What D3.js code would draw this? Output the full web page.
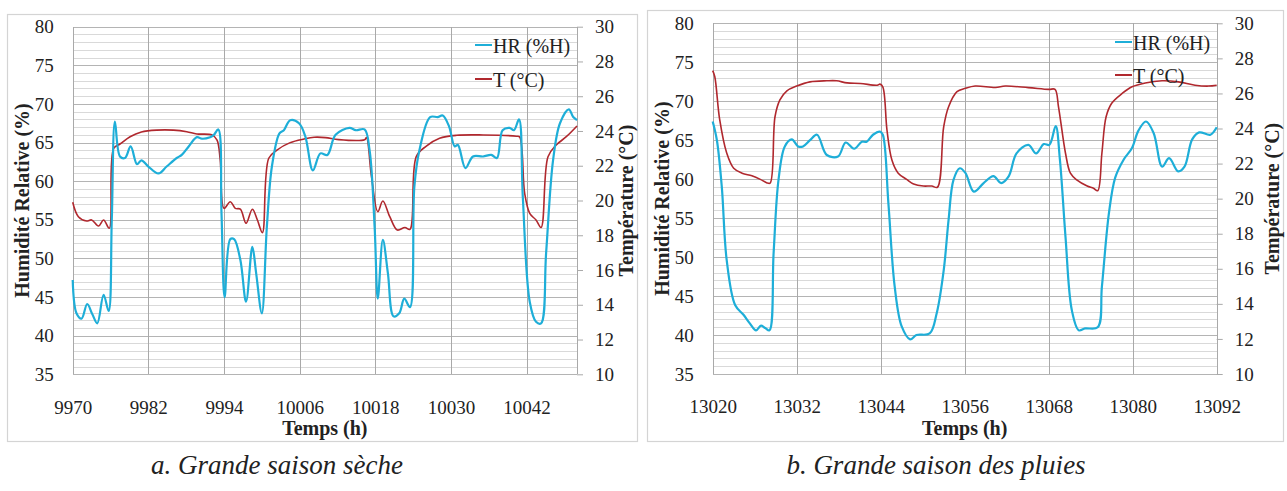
<!DOCTYPE html>
<html>
<head>
<meta charset="utf-8">
<script src="https://cdn.jsdelivr.net/npm/d3@7"></script>
<style>
  html, body { margin: 0; padding: 0; background: #fff; }
  svg { display: block; }
  text { font-family: "Liberation Serif", "Tinos", "Times New Roman", serif; fill: #222; }
</style>
</head>
<body>
<svg id="chart" width="1287" height="491"></svg>
<script>
const SERIF = '"Liberation Serif", "Tinos", "Times New Roman", serif';

// ---- Panel a: dry season (hours 9970-10050) ----
const hrTimeA = [9970, 9970.6, 9971.4, 9972.3, 9973.1, 9973.9, 9974.9, 9975.7, 9976.2, 9976.7, 9977.5, 9978.3, 9979.2, 9980.2, 9980.9, 9982, 9983.6, 9984.9, 9986.5, 9987.3, 9988.4, 9989.7, 9990.5, 9991.8, 9992.4, 9993.1, 9993.6, 9994.1, 9995.0, 9995.6, 9996.6, 9997.5, 9998.5, 9999.1, 10000.0, 10000.8, 10001.6, 10002.8, 10003.5, 10004.5, 10005.9, 10006.9, 10008.1, 10009.3, 10010.4, 10011.7, 10013.9, 10014.9, 10016.3, 10017.1, 10017.9, 10018.4, 10019.2, 10020.0, 10020.9, 10021.8, 10022.6, 10023.5, 10024.2, 10025.0, 10026.7, 10027.9, 10028.7, 10029.7, 10030.6, 10031.1, 10032.3, 10033.5, 10035.1, 10036.4, 10037.3, 10038.2, 10039.3, 10040.0, 10040.8, 10041.4, 10042.5, 10043.5, 10044.3, 10045.1, 10046.2, 10047.3, 10048.7, 10049.4, 10050];
const hrA = [47.2, 42.9, 42.2, 44.1, 42.8, 41.6, 45.3, 43.2, 55, 67.7, 63.2, 63.0, 64.5, 62.2, 62.7, 61.9, 61.0, 61.9, 63.0, 63.4, 64.5, 65.7, 65.5, 65.7, 66.0, 66.7, 56, 45.0, 52.5, 52.5, 49.8, 44.4, 51.5, 48.1, 42.9, 54.1, 61.9, 66.2, 66.6, 67.9, 67.5, 65.8, 61.4, 63.6, 63.4, 66.0, 66.9, 66.6, 66.7, 64.0, 54, 44.8, 52.4, 48.1, 42.5, 42.9, 44.8, 43.7, 59.3, 64.0, 68.3, 68.3, 68.5, 67.1, 64.5, 64.7, 61.7, 63.2, 63.2, 63.4, 63.0, 66.6, 66.9, 66.6, 68.0, 58, 44.4, 41.8, 41.6, 50.7, 62.7, 67.5, 69.3, 68.3, 67.9];
const tTimeA = [9970, 9970.9, 9972.2, 9973, 9974.1, 9974.9, 9975.8, 9976.5, 9977.5, 9979.1, 9980.9, 9983.3, 9986, 9988.1, 9989.7, 9992.1, 9992.9, 9993.4, 9994, 9995, 9995.8, 9996.6, 9997.5, 9998.5, 9999.3, 10000.1, 10001.1, 10002.4, 10004.5, 10006.7, 10008.3, 10010.1, 10012.2, 10016.3, 10016.6, 10017.4, 10018.4, 10019.2, 10020.3, 10021.5, 10022.7, 10023.5, 10024.5, 10026.1, 10028.2, 10030.9, 10035.1, 10040.4, 10040.9, 10041.7, 10042.5, 10043.5, 10044.3, 10045.4, 10046.7, 10048.3, 10050];
const tA = [19.9, 19.07, 18.82, 18.88, 18.53, 18.88, 18.4, 23.0, 23.25, 23.67, 23.94, 24.05, 24.05, 23.96, 23.83, 23.77, 23.48, 22.33, 19.55, 19.93, 19.55, 19.5, 18.69, 19.5, 18.88, 18.15, 22.43, 22.9, 23.33, 23.54, 23.64, 23.62, 23.5, 23.5, 23.62, 21.37, 19.36, 19.97, 19.07, 18.3, 18.45, 18.34, 22.52, 23.13, 23.58, 23.75, 23.77, 23.7, 23.66, 20.41, 19.26, 18.88, 18.45, 22.52, 23.19, 23.67, 24.29];
const xTicksA = [9970, 9982, 9994, 10006, 10018, 10030, 10042];

// ---- Panel b: rainy season (hours 13020-13092) ----
const hrTimeB = [13020, 13020.6, 13021.3, 13022, 13023.2, 13024.4, 13025.3, 13026.2, 13026.9, 13027.5, 13028.1, 13028.7, 13029.4, 13030.3, 13031.3, 13032.2, 13032.9, 13033.9, 13034.9, 13036.3, 13037.9, 13039.0, 13040.2, 13041.3, 13042, 13042.9, 13043.9, 13044.3, 13045.1, 13046, 13047, 13048.2, 13049.1, 13051, 13052, 13053, 13053.7, 13054.4, 13055.3, 13056.1, 13057.3, 13058.7, 13060.1, 13061.2, 13062.3, 13063.4, 13065.1, 13066.2, 13067.3, 13068.1, 13069.0, 13069.6, 13070.4, 13071.3, 13072.3, 13073.2, 13075, 13075.6, 13076.6, 13077.5, 13078.7, 13079.9, 13080.8, 13081.9, 13083, 13084.2, 13085.2, 13086.5, 13087.4, 13088.5, 13089.5, 13091.1, 13092];
const hrB = [67.4, 65.0, 59.0, 49.6, 43.85, 42.6, 41.5, 40.6, 41.2, 40.9, 40.6, 50.5, 59.9, 64.2, 65.1, 64.2, 64.2, 65.0, 65.7, 63.1, 62.9, 64.7, 63.9, 64.8, 64.8, 65.7, 66.1, 65.7, 56.9, 46.2, 41.1, 39.45, 40.0, 40.2, 42.8, 48.3, 54.8, 59.9, 61.4, 60.8, 58.4, 59.5, 60.4, 59.5, 60.4, 63.3, 64.4, 63.3, 64.5, 64.4, 66.8, 62.5, 52.6, 43.2, 40.6, 40.85, 41.0, 46.2, 55.6, 60.2, 62.5, 64.0, 66.2, 67.4, 65.9, 61.6, 62.7, 61.0, 61.6, 65.1, 66.0, 65.7, 66.65];
const tTimeB = [13020, 13020.3, 13021, 13022, 13023, 13024.2, 13025.6, 13026.8, 13027.7, 13028.2, 13028.9, 13029.6, 13030.6, 13032, 13033.9, 13036.3, 13037.7, 13039.2, 13041.1, 13043.5, 13043.9, 13044.3, 13044.9, 13045.6, 13046.5, 13047.7, 13048.7, 13050.1, 13051.3, 13052.1, 13053, 13053.7, 13054.9, 13056.1, 13057.5, 13060.4, 13061.8, 13065.1, 13068, 13068.9, 13069.4, 13070.4, 13071.1, 13072, 13073.5, 13074.4, 13075, 13075.6, 13076.2, 13077, 13078.5, 13079.9, 13081.8, 13084.2, 13086.5, 13088.9, 13090.8, 13092];
const tB = [27.3, 26.95, 24.5, 22.6, 21.73, 21.45, 21.3, 21.1, 20.91, 20.88, 24.67, 25.63, 26.15, 26.42, 26.66, 26.72, 26.72, 26.6, 26.57, 26.47, 26.53, 26.38, 23.9, 22.2, 21.45, 21.1, 20.84, 20.72, 20.72, 20.65, 24.1, 25.24, 26.1, 26.29, 26.42, 26.34, 26.42, 26.33, 26.23, 26.23, 25.24, 22.59, 21.45, 21.07, 20.72, 20.59, 20.45, 22.59, 24.67, 25.44, 26.0, 26.38, 26.6, 26.72, 26.66, 26.47, 26.42, 26.47];
const xTicksB = [13020, 13032, 13044, 13056, 13068, 13080, 13092];

// ---- Shared axes ----
const hrTicks = [35, 40, 45, 50, 55, 60, 65, 70, 75, 80];
const tTicks = [10, 12, 14, 16, 18, 20, 22, 24, 26, 28, 30];
const seriesNames = ["HR (%H)", "T (°C)"];
const captions = ["a. Grande saison sèche", "b. Grande saison des pluies"];

const HR_COLOR = "#1eaed8";
const T_COLOR = "#b0282e";

const svg = d3.select("#chart");

function styleTicks(axis) {
  axis.attr("font-family", null);
  axis.selectAll("text")
    .style("font-family", SERIF)
    .style("font-size", "19px")
    .attr("fill", "#222");
}

function drawPanel(p) {
  const g = svg.append("g");

  // outer frame
  g.append("rect")
    .attr("x", p.frame[0] + 0.5).attr("y", p.frame[1] + 0.5)
    .attr("width", p.frame[2]).attr("height", p.frame[3])
    .attr("fill", "#fff").attr("stroke", "#d4d4d4").attr("stroke-width", 1.2);

  const x = d3.scaleLinear().domain(p.xDomain).range([p.left, p.right]);
  const yH = d3.scaleLinear().domain([35, 80]).range([p.bottom, p.top]);
  const yT = d3.scaleLinear().domain([10, 30]).range([p.bottom, p.top]);

  // horizontal grid: every 1 % minor, every 5 % major
  const grid = g.append("g").attr("shape-rendering", "crispEdges");
  grid.selectAll("line.minor").data(d3.range(35, 81, 1))
    .join("line")
    .attr("x1", p.left).attr("x2", p.right)
    .attr("y1", d => Math.round(yH(d)) + 0.5).attr("y2", d => Math.round(yH(d)) + 0.5)
    .attr("stroke", d => d % 5 === 0 ? "#b4b4b4" : "#d9d9d9")
    .attr("stroke-width", 1);

  // vertical grid at each x tick, plus the right edge
  grid.selectAll("line.v").data(p.xTicks.concat([p.xDomain[1]]))
    .join("line")
    .attr("x1", d => Math.round(x(d)) + 0.5).attr("x2", d => Math.round(x(d)) + 0.5)
    .attr("y1", p.top).attr("y2", p.bottom)
    .attr("stroke", "#a9a9a9").attr("stroke-width", 1);

  // left axis labels
  const axL = g.append("g").attr("transform", `translate(${p.left},0)`)
    .call(d3.axisLeft(yH).tickValues(hrTicks).tickSize(0).tickPadding(19));
  axL.select(".domain").remove();
  styleTicks(axL);

  // right axis with outside ticks
  const axR = g.append("g").attr("transform", `translate(${p.right},0)`)
    .call(d3.axisRight(yT).tickValues(tTicks).tickSize(6).tickPadding(12));
  axR.select(".domain").remove();
  axR.selectAll("line").attr("stroke", "#a9a9a9");
  styleTicks(axR);

  // bottom axis labels
  const axB = g.append("g").attr("transform", `translate(0,${p.bottom})`)
    .call(d3.axisBottom(x).tickValues(p.xTicks).tickSize(0).tickPadding(26).tickFormat(d3.format("d")));
  axB.select(".domain").remove();
  styleTicks(axB);

  // series
  const lineH = d3.line().x(d => x(d[0])).y(d => yH(d[1])).curve(d3.curveCatmullRom.alpha(0.5));
  const lineT = d3.line().x(d => x(d[0])).y(d => yT(d[1])).curve(d3.curveCatmullRom.alpha(0.5));

  g.append("path").datum(d3.zip(p.tTime, p.t))
    .attr("d", lineT).attr("fill", "none")
    .attr("stroke", T_COLOR).attr("stroke-width", 1.6);
  g.append("path").datum(d3.zip(p.hrTime, p.hr))
    .attr("d", lineH).attr("fill", "none")
    .attr("stroke", HR_COLOR).attr("stroke-width", 2.2);

  // axis titles
  const midY = (p.top + p.bottom) / 2;
  const bold = sel => sel.style("font-family", SERIF).style("font-size", "20px").style("font-weight", "bold");
  g.append("text")
    .attr("transform", `translate(${p.yTitleX},${midY}) rotate(-90)`)
    .attr("text-anchor", "middle")
    .call(bold)
    .text("Humidité Relative (%)");
  g.append("text")
    .attr("transform", `translate(${p.y2TitleX},${midY}) rotate(-90)`)
    .attr("text-anchor", "middle")
    .call(bold)
    .text("Température (°C)");
  g.append("text")
    .attr("x", (p.left + p.right) / 2).attr("y", p.xTitleY)
    .attr("text-anchor", "middle")
    .call(bold)
    .text("Temps (h)");

  // legend
  const colors = [HR_COLOR, T_COLOR];
  seriesNames.forEach((name, i) => {
    const by = p.legendY[i];
    g.append("line")
      .attr("x1", p.legendX).attr("x2", p.legendX + 17)
      .attr("y1", by - 8).attr("y2", by - 8)
      .attr("stroke", colors[i]).attr("stroke-width", 2);
    g.append("text")
      .attr("x", p.legendX + 18).attr("y", by)
      .style("font-family", SERIF)
      .style("font-size", "20px")
      .text(name);
  });

  // caption
  svg.append("text")
    .attr("x", p.captionX).attr("y", 474)
    .attr("text-anchor", "middle")
    .style("font-family", SERIF)
    .style("font-size", "27px").style("font-style", "italic")
    .text(p.caption);
}

drawPanel({
  frame: [7, 14, 630, 427],
  left: 72.7, right: 577, top: 26.7, bottom: 374.3,
  xDomain: [9970, 10050], xTicks: xTicksA,
  hrTime: hrTimeA, hr: hrA, tTime: tTimeA, t: tA,
  yTitleX: 29, y2TitleX: 633, xTitleY: 435,
  legendX: 475, legendY: [53, 87],
  captionX: 277, caption: captions[0]
});

drawPanel({
  frame: [647, 10, 636, 431],
  left: 712.7, right: 1216.7, top: 23.3, bottom: 374,
  xDomain: [13020, 13092], xTicks: xTicksB,
  hrTime: hrTimeB, hr: hrB, tTime: tTimeB, t: tB,
  yTitleX: 669, y2TitleX: 1279, xTitleY: 435,
  legendX: 1115, legendY: [50, 83],
  captionX: 936, caption: captions[1]
});
</script>
</body>
</html>
